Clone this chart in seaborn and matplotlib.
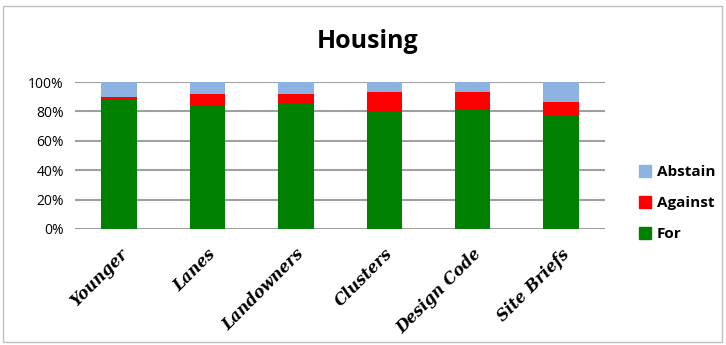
import matplotlib
matplotlib.use("Agg")
import matplotlib.pyplot as plt
import numpy as np
import pandas as pd
import seaborn as sns
from matplotlib.patches import Patch, Rectangle

categories = ["Younger", "Lanes", "Landowners", "Clusters", "Design Code", "Site Briefs"]
for_pct = [88.4, 84.5, 85.7, 80.5, 81.6, 77.7]
against_pct = [1.1, 7.3, 6.1, 12.9, 11.6, 8.9]
abstain_pct = [10.5, 8.2, 8.2, 6.6, 6.8, 13.4]

df = pd.DataFrame({"cat": categories, "For": for_pct,
                   "Against": against_pct, "Abstain": abstain_pct})
df["top_against"] = df["For"] + df["Against"]
df["top_abstain"] = df["top_against"] + df["Abstain"]

col_for = "#008000"
col_against = "#ff0000"
col_abstain = "#8db3e2"

sns.set_style("white")
plt.rcParams['font.family'] = ['Open Sans', 'DejaVu Sans']
plt.rcParams['text.color'] = 'black'
plt.rcParams['xtick.color'] = 'black'
plt.rcParams['ytick.color'] = 'black'

fig = plt.figure(figsize=(7.26, 3.45), dpi=100)
ax = fig.add_axes([75 / 726, 1 - 229 / 345, 530 / 726, 147 / 345])

sns.barplot(data=df, x="cat", y="top_abstain", color=col_abstain, width=0.4,
            saturation=1, linewidth=0, ax=ax, zorder=3)
sns.barplot(data=df, x="cat", y="top_against", color=col_against, width=0.4,
            saturation=1, linewidth=0, ax=ax, zorder=3)
sns.barplot(data=df, x="cat", y="For", color=col_for, width=0.4,
            saturation=1, linewidth=0, ax=ax, zorder=3)

ax.set_ylim(0, 100)
ax.set_xlim(-0.5, 5.5)
ax.set_yticks(np.arange(0, 101, 20))
ax.set_yticklabels([f"{v}%" for v in range(0, 101, 20)], fontsize=10)
ax.yaxis.grid(True, color="#a0a0a0", linewidth=1.5, zorder=0)
ax.set_axisbelow(True)
for s in ax.spines.values():
    s.set_visible(False)
ax.tick_params(axis="both", length=0)
ax.tick_params(axis="y", pad=8)
ax.set_xlabel("")
ax.set_ylabel("")
ax.set_xticks(range(len(categories)))
ax.set_xticklabels(categories, rotation=45, ha="right", rotation_mode="anchor",
                   fontsize=11.5, fontweight="bold", fontstyle="italic",
                   family=["DejaVu Serif"])
ax.tick_params(axis="x", pad=12)

fig.text(368 / 726, 1 - 42 / 345, "Housing", ha="center", va="center",
         fontsize=18, fontweight="bold")

handles = [Patch(color=col_abstain, label="Abstain"),
           Patch(color=col_against, label="Against"),
           Patch(color=col_for, label="For")]
leg = fig.legend(handles=handles, loc="center left",
                 bbox_to_anchor=(625 / 726, 1 - 203 / 345), frameon=False,
                 prop={"weight": "bold", "size": 11}, handlelength=0.8,
                 handleheight=0.8, handletextpad=0.4, labelspacing=1.1)

fig.patches.append(Rectangle((3 / 726, 3 / 345), 719 / 726, 336 / 345,
                             transform=fig.transFigure, fill=False,
                             edgecolor="#bfbfbf", linewidth=1))

fig.savefig("out.png", dpi=100)
